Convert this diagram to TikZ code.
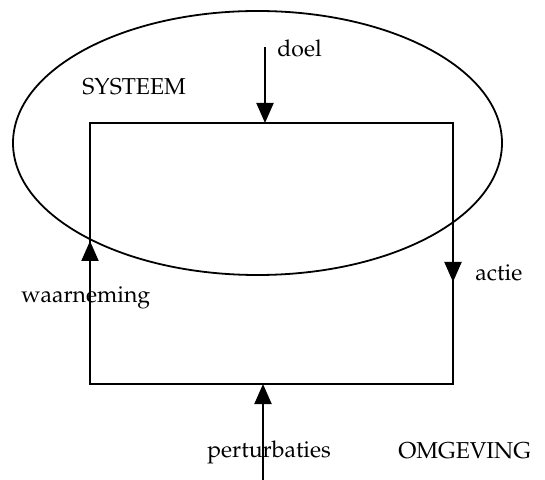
\documentclass[tikz,border=0pt]{standalone}
\usepackage[T1]{fontenc}
\usepackage{mathpazo}
\usetikzlibrary{arrows.meta, shapes.geometric}

\begin{document}
\begin{tikzpicture}[
    x=0.5pt, y=-0.5pt,
    font=\fontsize{11.5}{14}\selectfont,
    boundary/.style={ellipse, draw=black, line width=0.9pt, minimum width=244.5pt, minimum height=132pt, inner sep=0pt},
    loopline/.style={draw=black, line width=1pt},
    flow/.style={line width=1pt, -{Triangle[length=10pt, width=8.5pt]}},
    txt/.style={anchor=base west, inner sep=0pt}
]
\useasboundingbox (0,0) rectangle (545,480);

% Nodes
\node[boundary] (systemborder) at (257.5,143) {};
\coordinate (tl) at (90,123);
\coordinate (tr) at (453,123);
\coordinate (br) at (453,384);
\coordinate (bl) at (90,384);
\coordinate (goalstart) at (265,47);
\coordinate (goalend) at (265,123);
\coordinate (diststart) at (263,480);
\coordinate (distend) at (263,384);
\coordinate (obsfrom) at (90,262);
\coordinate (obsto) at (90,241);
\coordinate (actfrom) at (453,262);
\coordinate (actto) at (453,282);

\node[txt] (systeem) at (82,95) {SYSTEEM};
\node[txt] (doel) at (277,57) {doel};
\node[txt] (waarneming) at (21,302) {waarneming};
\node[txt] (actie) at (475,281) {actie};
\node[txt] (perturbaties) at (207,457) {perturbaties};
\node[txt] (omgeving) at (398,458) {OMGEVING};

% Edges
\draw[loopline] (bl) -- (tl) -- (tr) -- (br) -- cycle;
\draw[flow] (goalstart) -- (goalend);
\draw[flow] (diststart) -- (distend);
\draw[flow] (obsfrom) -- (obsto);
\draw[flow] (actfrom) -- (actto);

\end{tikzpicture}
\end{document}
